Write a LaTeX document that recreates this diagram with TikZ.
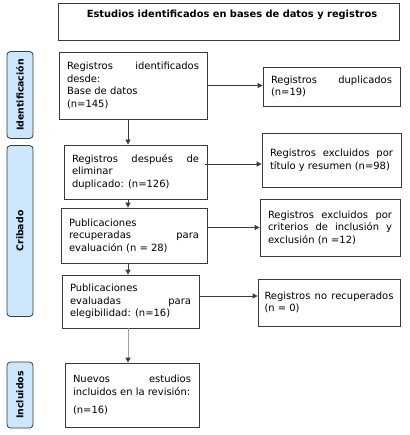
\documentclass[tikz,border=0pt]{standalone}
\usepackage{fontspec}
\setmainfont{DejaVu Sans}
\usetikzlibrary{arrows.meta,calc}
\definecolor{boxline}{HTML}{3A3A3A}
\definecolor{sidefill}{HTML}{CCE6FB}
\definecolor{greyline}{HTML}{A0A0A0}
\hyphenpenalty=10000
\exhyphenpenalty=10000
\tolerance=9999
\emergencystretch=20pt
\begin{document}
\begin{tikzpicture}[x=1bp,y=-1bp,
  box/.style={draw=boxline,line width=0.8bp,fill=white,inner xsep=8bp,inner ysep=0bp,
    align=justify,font=\fontsize{10}{12.6}\selectfont},
  sidelabel/.style={draw=boxline,line width=0.8bp,fill=sidefill,rounded corners=3.5bp,
    rotate=90,inner sep=0bp,font=\fontsize{9.4}{10}\selectfont\bfseries},
  arr/.style={draw=boxline,line width=0.8bp,-{Triangle[length=5bp,width=5bp]}},
  greyarr/.style={draw=greyline,line width=1bp,-{Triangle[length=5bp,width=5bp,color=boxline,fill=boxline]}}]
\useasboundingbox (0,0) rectangle (409,435);

% top box
\node[draw=boxline,line width=0.8bp,minimum width=341bp,minimum height=37bp,inner sep=0bp] (top) at (228.5,21.5) {};
\node[font=\fontsize{9.9}{10}\selectfont\bfseries] (toptext) at (232,15) {Estudios identificados en bases de datos y registros};

% side labels
\node[sidelabel,minimum width=87bp,minimum height=26bp] (ident) at (20,95) {Identificación};
\node[sidelabel,minimum width=171bp,minimum height=26bp] (crib) at (20,231) {Cribado};
\node[sidelabel,minimum width=66bp,minimum height=26bp] (incl) at (20,395) {Incluidos};

% left column
\node[box,text width=132bp,minimum height=67bp] (b1) at (133,85.5)
  {Registros identificados desde:\\ Base de datos\\ (n=145)};
\node[box,text width=127bp,minimum height=54bp] (b3) at (135.5,172)
  {Registros después de eliminar\\ duplicado: (n=126)};
\node[box,text width=130bp,minimum height=55bp] (b5) at (134,235.5)
  {Publicaciones recuperadas para evaluación (n = 28)};
\node[box,text width=121bp,minimum height=53bp] (b7) at (130.5,301.5)
  {Publicaciones\\ evaluadas para\linebreak elegibilidad: (n=16)};
\node[box,text width=118bp,minimum height=64bp] (b9) at (132,395)
  {Nuevos estudios incluidos en la revisión:\\[6bp] (n=16)};

% right column
\node[box,text width=121bp,minimum height=39bp] (dup) at (331.5,86.5)
  {Registros duplicados (n=19)};
\node[box,text width=123bp,minimum height=54bp] (ext) at (331.5,160)
  {Registros excluidos por título y resumen (n=98)};
\node[box,text width=124bp,minimum height=57bp] (crit) at (330,227.5)
  {Registros excluidos por criterios de inclusión y exclusión (n =12)};
\node[box,inner xsep=6.5bp,text width=129bp,minimum height=47bp] (norec) at (329,302.5)
  {Registros no recuperados (n = 0)};

% connectors
\coordinate (ax) at (128,0);
\draw[arr] (b1.south -| ax) -- (b3.north -| ax);
\draw[arr] (b3.south -| ax) -- (b5.north -| ax);
\draw[arr] (b5.south -| ax) -- (b7.north -| ax);
\draw[greyarr] (b7.south -| ax) -- (b9.north -| ax);

\draw[arr] (b1.east) -- (dup.west |- b1.east);
\draw[arr] ($(b3.east)+(-2,-8)$) -- (ext.west |- {$(b3.east)+(0,-8)$});
\draw[arr] (b5.east |- crit.west) -- (crit.west);
\draw[arr] ($(b7.east)+(0,-5.5)$) -- (norec.west |- {$(b7.east)+(0,-5.5)$});
\end{tikzpicture}
\end{document}
